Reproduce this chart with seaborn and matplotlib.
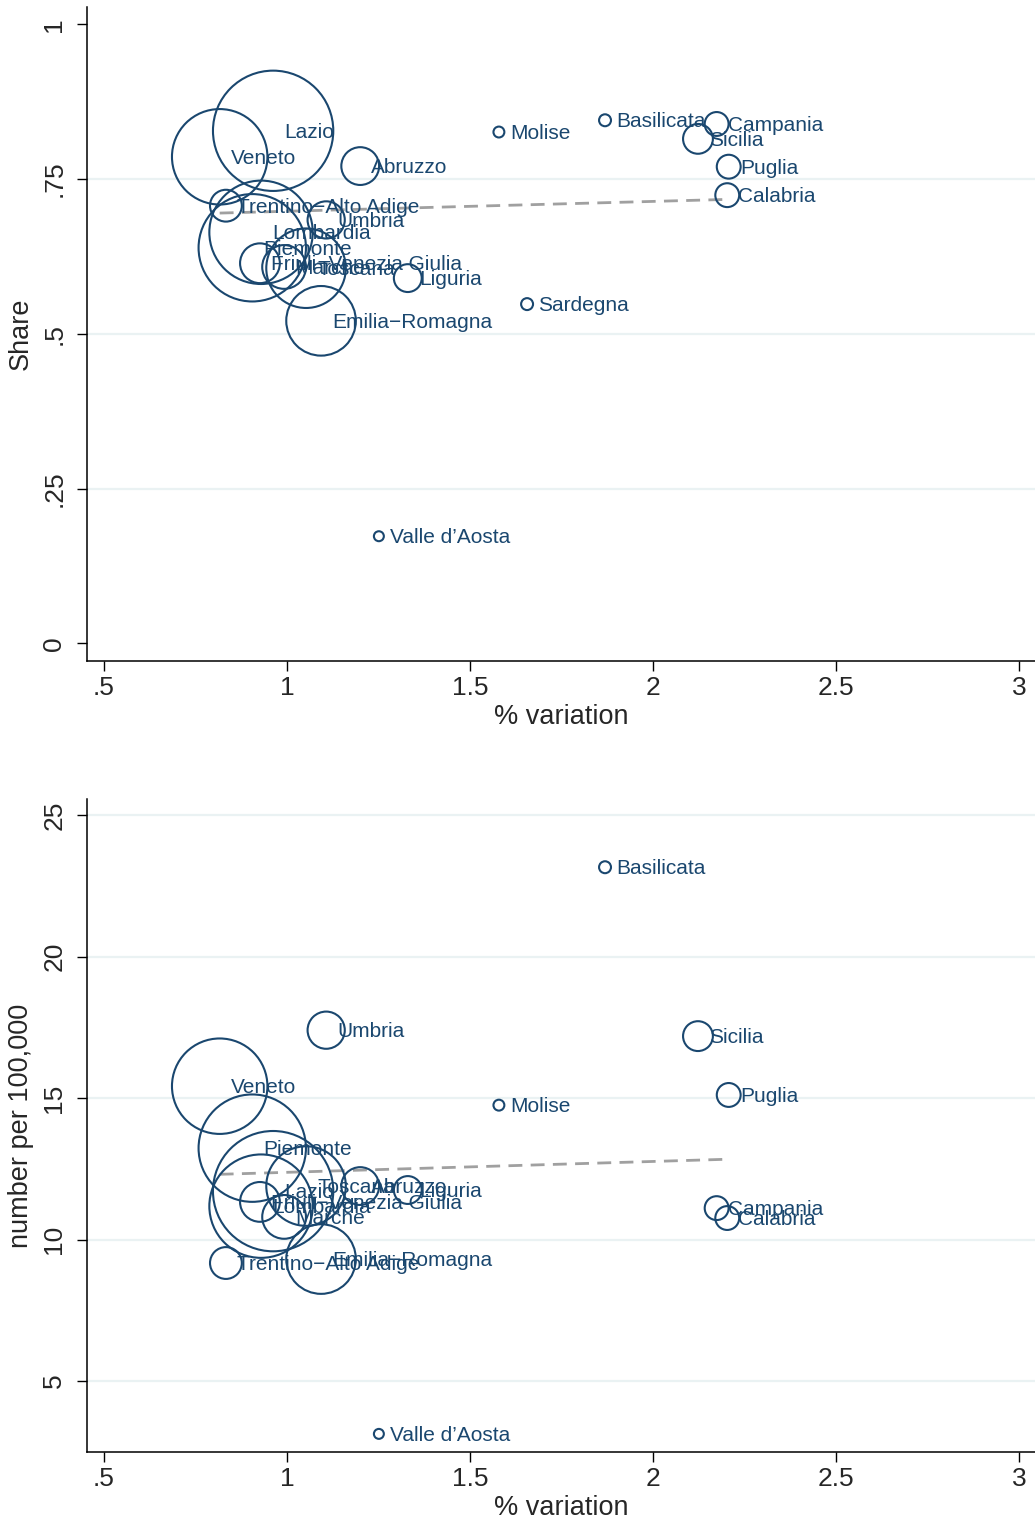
import numpy as np
import pandas as pd
import matplotlib
matplotlib.use("Agg")
import matplotlib.pyplot as plt
import seaborn as sns

regions = ["Piemonte", "Valle d’Aosta", "Lombardia", "Trentino−Alto Adige", "Veneto",
           "Friuli−Venezia Giulia", "Liguria", "Emilia−Romagna", "Toscana", "Umbria",
           "Marche", "Lazio", "Abruzzo", "Molise", "Campania", "Puglia", "Basilicata",
           "Calabria", "Sicilia", "Sardegna"]
variation = [0.905, 1.251, 0.929, 0.833, 0.816, 0.926, 1.330, 1.093, 1.052, 1.107,
             0.992, 0.962, 1.200, 1.579, 2.174, 2.207, 1.869, 2.203, 2.123, 1.656]
share = [0.639, 0.173, 0.664, 0.707, 0.786, 0.614, 0.590, 0.521, 0.606, 0.684,
         0.608, 0.828, 0.771, 0.826, 0.839, 0.770, 0.845, 0.724, 0.815, 0.548]
per100k = [13.23, 3.13, 11.18, 9.17, 15.42, 11.33, 11.75, 9.31, 11.89, 17.40,
           10.80, 11.71, 11.89, 14.75, 11.11, 15.11, 23.16, 10.76, 17.19, np.nan]
weight = [2916, 25, 2704, 256, 2304, 400, 196, 1225, 1600, 350,
          484, 3660, 361, 30, 144, 144, 36, 144, 225, 36]

xticks = [0.5, 1, 1.5, 2, 2.5, 3]
xticklabels = [".5", "1", "1.5", "2", "2.5", "3"]
yticks_top = [0, 0.25, 0.5, 0.75, 1]
yticklabels_top = ["0", ".25", ".5", ".75", "1"]
yticks_bot = [5, 10, 15, 20, 25]
yticklabels_bot = ["5", "10", "15", "20", "25"]

df = pd.DataFrame({"region": regions, "variation": variation, "share": share,
                   "per100k": per100k, "weight": weight})

sns.set_style("white")
plt.rcParams["font.family"] = ["Liberation Sans", "DejaVu Sans"]

navy = "#1a476f"
gridc = "#eaf2f3"
k = 2.05  # points^2 per weight unit

fig = plt.figure(figsize=(10.35, 15.22), dpi=100)
ax1 = fig.add_axes([0.0841, 0.5657, 0.9159, 0.4295])
ax2 = fig.add_axes([0.0841, 0.0460, 0.9159, 0.4290])


def panel(ax, ycol, ylabel, yticks, yticklabels, ylim, grid_at):
    d = df.dropna(subset=[ycol])
    for g in grid_at:
        ax.axhline(g, color=gridc, lw=1.6, zorder=0)
    sns.scatterplot(data=d, x="variation", y=ycol, size="weight",
                    sizes=(k * d["weight"].min(), k * d["weight"].max()),
                    facecolor="none", edgecolor=navy, linewidth=1.5,
                    legend=False, ax=ax, zorder=3)
    for _, r in d.iterrows():
        ax.annotate(r["region"], (r["variation"], r[ycol]), xytext=(8, -1),
                    textcoords="offset points", ha="left", va="center",
                    fontsize=15, color=navy, zorder=4)
    # weighted linear fit
    coef = np.polyfit(d["variation"], d[ycol], 1, w=d["weight"] ** 0.47)
    xs = np.array([d["variation"].min(), d["variation"].max()])
    ax.plot(xs, np.polyval(coef, xs), ls=(0, (5, 3)), color="#a0a0a0", lw=2, zorder=2)

    ax.set_xlim(0.4535, 3.044)
    ax.set_ylim(*ylim)
    ax.set_xticks(xticks, xticklabels)
    ax.set_yticks(yticks, yticklabels)
    ax.tick_params(axis="both", direction="out", length=7, width=1, color="black",
                   labelsize=19, left=True, bottom=True)
    ax.tick_params(axis="y", pad=8)
    ax.tick_params(axis="x", pad=4)
    for lab in ax.get_yticklabels():
        lab.set_rotation(90)
        lab.set_va("center")
    ax.set_xlabel("% variation", fontsize=19.5, labelpad=3)
    ax.set_ylabel(ylabel, fontsize=19.5, labelpad=6)
    for s in ["top", "right"]:
        ax.spines[s].set_visible(False)
    for s in ["left", "bottom"]:
        ax.spines[s].set_color("black")
        ax.spines[s].set_linewidth(1.1)


panel(ax1, "share", "Share", yticks_top, yticklabels_top, (-0.0286, 1.0275), [0.25, 0.5, 0.75])
panel(ax2, "per100k", "number per 100,000", yticks_bot, yticklabels_bot, (2.49, 25.57), [5, 10, 15, 20, 25])

fig.savefig("out.png", dpi=100)
